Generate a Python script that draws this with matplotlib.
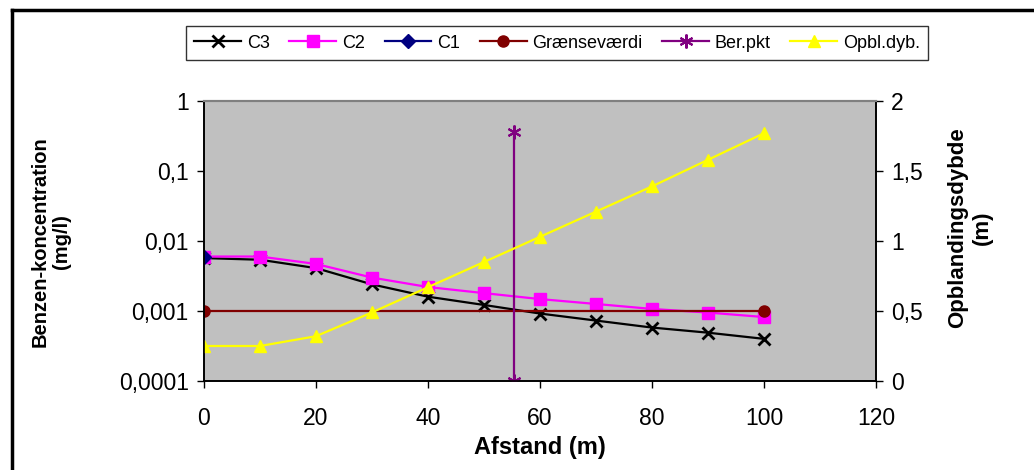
import numpy as np
import matplotlib
matplotlib.use("Agg")
import matplotlib.pyplot as plt
from matplotlib.ticker import FixedLocator, FixedFormatter, NullLocator

plt.rcParams['font.family'] = ['Liberation Sans', 'DejaVu Sans']

# data
afstand = [0, 10, 20, 30, 40, 50, 60, 70, 80, 90, 100]
c3 = [0.0057, 0.0054, 0.0041, 0.0024, 0.0016, 0.00122, 0.00092, 0.00073, 0.00058, 0.00049, 0.00040]
c2 = [0.0060, 0.0060, 0.0047, 0.0030, 0.0022, 0.0018, 0.00148, 0.00126, 0.00107, 0.00095, 0.00082]
c1_x = [0]
c1 = [0.0060]
graense_x = [0, 100]
graense = [0.001, 0.001]
ber_x = [55.3, 55.3]
ber_y = [0, 1.78]
opbl = [0.25, 0.25, 0.32, 0.49, 0.67, 0.85, 1.03, 1.21, 1.39, 1.58, 1.77]

left_ticks = [0.0001, 0.001, 0.01, 0.1, 1]
left_labels = ["0,0001", "0,001", "0,01", "0,1", "1"]
right_ticks = [0, 0.5, 1, 1.5, 2]
right_labels = ["0", "0,5", "1", "1,5", "2"]
x_ticks = [0, 20, 40, 60, 80, 100, 120]

W, H = 1034, 470
fig = plt.figure(figsize=(W / 100, H / 100), dpi=100)
ax = fig.add_axes([204 / W, 1 - 381 / H, (876 - 204) / W, (381 - 101) / H])
ax.set_facecolor("#C0C0C0")

lw = 1.6
h1, = ax.plot(afstand, c3, color="black", lw=lw, marker="x", ms=8, mew=2, label="C3")
h2, = ax.plot(afstand, c2, color="#FF00FF", lw=lw, marker="s", ms=8, label="C2")
h3, = ax.plot(c1_x, c1, color="#000080", lw=lw, marker="D", ms=7, label="C1")
h4, = ax.plot(graense_x, graense, color="#800000", lw=lw, marker="o", ms=8, label="Grænseværdi")

ax.set_yscale("log")
ax.set_ylim(0.0001, 1)
ax.set_xlim(0, 120)
ax.yaxis.set_major_locator(FixedLocator(left_ticks))
ax.yaxis.set_major_formatter(FixedFormatter(left_labels))
ax.yaxis.set_minor_locator(NullLocator())
ax.set_xticks(x_ticks)

ax2 = ax.twinx()
h5, = ax2.plot(ber_x, ber_y, color="#800080", lw=lw, marker=(6, 2, 0), ms=10, mew=1.5, label="Ber.pkt")
h6, = ax2.plot(afstand, opbl, color="#FFFF00", lw=lw, marker="^", ms=9, label="Opbl.dyb.")
ax2.set_ylim(0, 2)
ax2.set_yticks(right_ticks)
ax2.set_yticklabels(right_labels)

for a in (ax, ax2):
    a.tick_params(direction="out", length=5, width=1, labelsize=16.5, colors="black", pad=6)
    for s in ("left", "right", "bottom"):
        a.spines[s].set_color("black")
        a.spines[s].set_linewidth(1.2)
    a.spines["top"].set_color("#808080")
    a.spines["top"].set_linewidth(1.5)
ax.tick_params(axis="x", pad=14)

ax.set_xlabel("Afstand (m)", fontsize=17, fontweight="bold", labelpad=4)
fig.text(51 / W, 1 - 242 / H, "Benzen-koncentration\n(mg/l)", rotation=90, fontsize=14.5,
         fontweight="bold", ha="center", va="center", linespacing=1.2)
fig.text(970 / W, 1 - 228 / H, "Opblandingsdybde\n(m)", rotation=90, fontsize=16,
         fontweight="bold", ha="center", va="center", linespacing=1.2)

leg = fig.legend(handles=[h1, h2, h3, h4, h5, h6], loc="center", bbox_to_anchor=(557 / W, 1 - 43 / H),
                 ncol=6, fontsize=13, frameon=True, fancybox=False, borderpad=0.45,
                 handlelength=2.6, handletextpad=0.3, columnspacing=1.1, borderaxespad=0)
leg.get_frame().set_edgecolor("black")
leg.get_frame().set_linewidth(1.0)

# outer chart border (only top and left visible in the crop)
fig.add_artist(plt.Line2D([12 / W, 12 / W], [0, 1 - 10 / H], color="black", lw=2.5, transform=fig.transFigure))
fig.add_artist(plt.Line2D([12 / W, 1], [1 - 10 / H, 1 - 10 / H], color="black", lw=2.5, transform=fig.transFigure))

fig.savefig("out.png", dpi=100)
